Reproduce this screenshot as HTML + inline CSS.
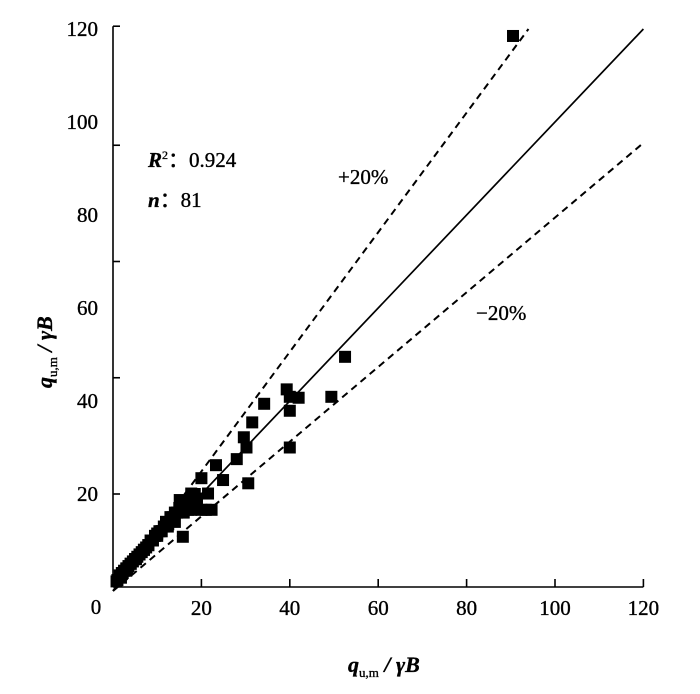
<!DOCTYPE html>
<html><head><meta charset="utf-8">
<style>
html,body{margin:0;padding:0;background:#fff;}
svg{display:block;font-family:"Liberation Serif",serif;}
svg text{stroke:#000;stroke-width:0.35px;}
</style></head>
<body>
<svg id="chart" width="700" height="694" viewBox="0 0 700 694" xmlns="http://www.w3.org/2000/svg">
<g id="axes"></g>
<g id="marks"></g>
<text x="148" y="167" font-size="21"><tspan font-style="italic" font-weight="bold">R</tspan><tspan font-size="12" dy="-8">2</tspan><tspan dy="8">：0.924</tspan></text>
<text x="148" y="207" font-size="21"><tspan font-style="italic" font-weight="bold">n</tspan>：81</text>
<text x="338" y="184" font-size="21">+20%</text>
<text x="476" y="320" font-size="21">−20%</text>
<text x="348" y="672" font-size="22" font-weight="bold" font-style="italic">q<tspan font-size="13" dy="5" font-style="normal" font-weight="normal">u,m</tspan><tspan dy="-5"> / γ</tspan><tspan>B</tspan></text>
<text transform="translate(52,388) rotate(-90)" font-size="22" font-weight="bold" font-style="italic">q<tspan font-size="13" dy="5" font-style="normal" font-weight="normal">u,m</tspan><tspan dy="-5"> / γ</tspan><tspan>B</tspan></text>
</svg>
<script>
const xTickLabels = [0, 20, 40, 60, 80, 100, 120];
const yTickLabels = [0, 20, 40, 60, 80, 100, 120];
const yTickMarks = [20, 45, 70, 95, 120.6];
const xPred = [52.5,39.3,42,40,40,49.4,34.2,31.5,29.6,30.2,40,28,30.6,23.3,24.9,20,17.7,21.5,22.3,20,17.7,15.5,15.1,15.8,12.4,12,90.5,
 13,14,11,10,9,8,7.5,6,5,4,3.5,2.5,1.5,1,0.8,18.5,16.5,14.5,13.5,11.5,10.5,9.5,8.5,7,6.5,5.5,4.5,3,2,19,17,16,14,12.5,11,10,9,8,6,5,4,3,2.2,1.8,21,18,16,15,13,12,9,7,5.2,3.2];
const yMeas = [49.5,42.5,40.7,40.9,37.9,40.9,39.4,35.4,32.2,30,30,27.5,22.3,26.2,23,23.4,20.1,20.1,16.6,16.6,16.6,16.6,18.7,10.8,13,14,118.5,
 15,16,12,11,10,9,8.5,7,6,5,4.5,3.5,2.5,1.5,1.2,20,18,16,15,13,12,11,10,8,7.5,6.5,5.5,4,3,19,16.6,16.6,14,13.5,12,11.5,10,9,7,6,5,3.5,3,2,16.6,18,16,17,15,14,10,8,6,4];
const x0=113, xs=4.42, y0=587, ys=4.65;
const X=v=>x0+v*xs, Y=v=>y0-v*ys;
const NS="http://www.w3.org/2000/svg";
function mk(tag,attrs,parent){const e=document.createElementNS(NS,tag);for(const k in attrs)e.setAttribute(k,attrs[k]);parent.appendChild(e);return e;}
const ax=document.getElementById('axes'), mk2=document.getElementById('marks');
let e;
e=mk('line',{x1:X(0),y1:Y(0),x2:X(120),y2:Y(0),stroke:'#000','stroke-width':1.6},ax);


e=mk('line',{x1:X(0),y1:Y(0),x2:X(0),y2:Y(120.6),stroke:'#000','stroke-width':1.6},ax);


xTickLabels.forEach(v=>{
 if(v===0)return;
 e=mk('line',{x1:X(v),y1:Y(0),x2:X(v),y2:Y(0)-8,stroke:'#000','stroke-width':1.6},ax);
 
 
 e=mk('text',{x:X(v),y:615,'text-anchor':'middle','font-size':21},ax);
 e.textContent=v;
 
 
});
e=mk('text',{x:96,y:614,'text-anchor':'middle','font-size':21},ax);e.textContent='0';


yTickLabels.forEach(v=>{ if(v===0)return;
 e=mk('text',{x:98,y:Y(v)+7,'text-anchor':'end','font-size':21},ax);
 e.textContent=v;
 
 
});
yTickMarks.forEach(v=>{
 e=mk('line',{x1:X(0),y1:Y(v),x2:X(0)+7,y2:Y(v),stroke:'#000','stroke-width':1.6},ax);
 
 
});
e=mk('line',{x1:X(0),y1:Y(0),x2:X(120),y2:Y(120),stroke:'#000','stroke-width':1.7},mk2);


e=mk('line',{x1:X(0),y1:Y(0)+4,x2:X(94),y2:Y(120),stroke:'#000','stroke-width':2,'stroke-dasharray':'7,5'},mk2);


e=mk('line',{x1:X(0),y1:Y(0)+4,x2:X(120),y2:Y(95.5),stroke:'#000','stroke-width':2,'stroke-dasharray':'7,5'},mk2);


xPred.forEach((xv,i)=>{
 e=mk('rect',{x:X(xv)-6,y:Y(yMeas[i])-6,width:12,height:12,fill:'#000'},mk2);
 
 
});
</script>
</body></html>
